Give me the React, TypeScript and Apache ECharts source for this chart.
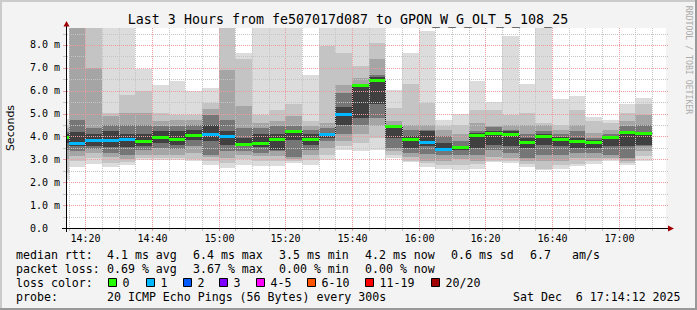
import React, { useEffect, useRef } from 'react';
import * as echarts from 'echarts';

const MONO = '"DejaVu Sans Mono", monospace';
const SANS = '"DejaVu Sans", sans-serif';

const titleText = 'Last 3 Hours from fe507017d087 to GPON_W_G_OLT_5_108_25';
const yAxisName = 'Seconds';
const watermark = 'RRDTOOL / TOBI OETIKER';

const rangeStart = '14:14:12';
const rangeEnd = '17:14:12';
const yMax = 8.743;
const barMinutes = 5;

const barTimes = [
  '14:10', '14:15', '14:20', '14:25', '14:30', '14:35', '14:40', '14:45', '14:50', '14:55',
  '15:00', '15:05', '15:10', '15:15', '15:20', '15:25', '15:30', '15:35', '15:40', '15:45',
  '15:50', '15:55', '16:00', '16:05', '16:10', '16:15', '16:20', '16:25', '16:30', '16:35',
  '16:40', '16:45', '16:50', '16:55', '17:00', '17:05',
];

// median RTT (ms) per 5-minute step
const median = [
  3.99, 3.72, 3.84, 3.84, 3.90, 3.81, 3.97, 3.87, 4.06, 4.13,
  4.04, 3.66, 3.71, 3.88, 4.23, 3.91, 4.09, 5.00, 6.23, 6.45,
  4.48, 3.90, 3.76, 3.47, 3.53, 4.06, 4.16, 4.10, 3.75, 4.00,
  3.91, 3.79, 3.74, 3.97, 4.20, 4.16,
];
// lost pings (of 20) per step
const lossCount = [
  0, 1, 1, 1, 1, 0, 0, 0, 0, 1,
  1, 0, 0, 0, 0, 0, 1, 1, 0, 0,
  0, 0, 1, 1, 0, 0, 0, 0, 0, 0,
  0, 0, 0, 0, 0, 0,
];

// smoke bands, outermost (0) to innermost (4): low and high ping bounds (ms)
const smokeLo0 = [2.12, 2.66, 2.80, 2.66, 2.77, 2.99, 2.99, 2.99, 2.92, 2.77, 2.63, 2.77, 2.70, 2.70, 2.85, 2.74, 2.99, 3.39, 3.36, 3.43, 3.06, 2.90, 2.66, 2.60, 2.55, 2.58, 2.89, 2.85, 2.66, 2.52, 2.60, 2.70, 2.80, 2.92, 2.77, 2.95];
const smokeHi0 = [4.75, 9.5, 9.5, 9.5, 9.5, 6.93, 6.23, 6.42, 5.98, 6.10, 9.5, 7.63, 9.5, 9.5, 9.5, 6.71, 9.5, 9.5, 9.5, 9.5, 6.05, 7.66, 8.63, 4.74, 4.99, 6.42, 5.51, 8.39, 6.30, 9.5, 5.66, 5.76, 4.86, 4.74, 5.43, 5.69];
const smokeLo1 = [2.40, 2.92, 3.06, 2.85, 2.90, 3.06, 3.06, 3.06, 3.00, 2.95, 2.85, 3.00, 2.92, 2.92, 2.92, 2.99, 3.20, 3.60, 3.72, 3.94, 3.20, 2.95, 2.85, 2.77, 2.75, 2.80, 2.92, 2.95, 2.80, 2.60, 2.75, 2.80, 2.92, 3.00, 2.85, 3.14];
const smokeHi1 = [4.50, 9.5, 9.5, 5.03, 5.83, 5.98, 5.03, 4.96, 4.96, 5.47, 9.5, 7.37, 4.96, 5.18, 5.44, 4.67, 7.95, 7.66, 7.07, 8.10, 5.25, 6.30, 5.47, 4.45, 4.52, 5.18, 5.18, 4.96, 5.03, 4.60, 4.52, 5.18, 4.67, 4.60, 5.03, 5.40];
const smokeLo2 = [3.00, 3.14, 3.30, 3.10, 3.00, 3.20, 3.20, 3.20, 3.30, 3.10, 3.06, 3.20, 3.14, 3.14, 3.00, 3.20, 3.50, 3.79, 4.09, 4.45, 3.35, 3.10, 2.92, 2.95, 3.00, 2.92, 3.10, 3.06, 2.95, 2.92, 2.95, 3.06, 3.06, 3.06, 2.95, 3.36];
const smokeHi2 = [4.35, 9.5, 7.00, 4.90, 5.03, 5.03, 4.67, 4.74, 4.74, 5.20, 6.90, 5.33, 4.60, 4.67, 4.90, 4.45, 4.60, 6.27, 6.56, 7.37, 4.67, 4.52, 4.52, 4.30, 4.09, 4.60, 4.45, 4.52, 4.52, 4.50, 4.30, 4.52, 4.16, 4.30, 4.67, 4.96];
const smokeLo3 = [3.40, 3.36, 3.45, 3.30, 3.20, 3.40, 3.50, 3.45, 3.60, 3.20, 3.35, 3.36, 3.30, 3.36, 3.12, 3.43, 3.79, 4.09, 4.52, 4.82, 3.50, 3.30, 3.22, 3.20, 3.20, 3.20, 3.43, 3.30, 3.06, 3.20, 3.20, 3.30, 3.30, 3.20, 3.06, 3.60];
const smokeHi3 = [4.20, 4.74, 4.38, 4.52, 4.52, 4.52, 4.45, 4.45, 4.52, 4.96, 4.74, 4.38, 4.38, 4.45, 4.45, 4.30, 4.38, 5.90, 6.30, 6.71, 4.52, 4.30, 4.30, 4.00, 3.79, 4.23, 4.40, 4.30, 4.09, 4.23, 4.09, 4.23, 3.94, 4.09, 4.45, 4.52];
const smokeLo4 = [3.70, 3.58, 3.60, 3.55, 3.55, 3.60, 3.72, 3.65, 3.85, 3.80, 3.65, 3.58, 3.55, 3.40, 3.85, 3.65, 3.94, 4.52, 4.80, 5.40, 3.94, 3.50, 3.58, 3.36, 3.40, 3.50, 3.65, 3.60, 3.50, 3.65, 3.60, 3.50, 3.50, 3.58, 3.60, 3.65];
const smokeHi4 = [4.10, 4.20, 4.09, 4.23, 4.09, 4.09, 4.23, 4.23, 4.30, 4.52, 4.23, 3.94, 4.09, 4.10, 4.30, 4.09, 4.16, 5.30, 6.20, 6.60, 4.50, 4.00, 4.23, 3.70, 3.60, 4.16, 4.26, 4.23, 3.94, 4.10, 3.98, 3.94, 3.85, 4.00, 4.25, 4.20];

const xTickLabels = ['14:20', '14:40', '15:00', '15:20', '15:40', '16:00', '16:20', '16:40', '17:00'];

const rttStats = ['4.1 ms avg', '6.4 ms max', '3.5 ms min', '4.2 ms now', '0.6 ms sd', '6.7', 'am/s'];
const lossStats = ['0.69 % avg', '3.67 % max', '0.00 % min', '0.00 % now'];
const lossLegendLabels = ['0', '1', '2', '3', '4-5', '6-10', '11-19', '20/20'];
const lossLegendColors = ['#26ff00', '#00b8ff', '#0059ff', '#7e00ff', '#ff00ff', '#ff5500', '#ff0000', '#a00000'];
const probeText = '20 ICMP Echo Pings (56 Bytes) every 300s';
const dateText = 'Sat Dec  6 17:14:12 2025';

// ---- layout / style (not data) ----
const bandColors = ['#dcdcdc', '#c4c4c4', '#a5a5a5', '#767676', '#404040'];
const GRID_MINOR = '#c4c4c4';
const GRID_MAJOR = '#ec9c9c';
const rttX = [107, 193, 279, 365, 451, 530, 572];
const lossX = [107, 193, 279, 365];
const swatchX = [108, 146, 183, 219, 256, 307, 365, 431];
const rowY = [254.5, 268.5, 282.5, 296.5];

function toMin(t: string): number {
  const p = t.split(':').map(Number);
  return p[0] * 60 + p[1] + (p[2] || 0) / 60;
}

function lossColor(n: number): string {
  if (n <= 0) return lossLegendColors[0];
  if (n === 1) return lossLegendColors[1];
  if (n === 2) return lossLegendColors[2];
  if (n === 3) return lossLegendColors[3];
  if (n <= 5) return lossLegendColors[4];
  if (n <= 10) return lossLegendColors[5];
  if (n <= 19) return lossLegendColors[6];
  return lossLegendColors[7];
}

function buildOption(): any {
  const xMin = toMin(rangeStart);
  const xMax = toMin(rangeEnd);
  const bands = [
    { lo: smokeLo0, hi: smokeHi0, color: bandColors[0] },
    { lo: smokeLo1, hi: smokeHi1, color: bandColors[1] },
    { lo: smokeLo2, hi: smokeHi2, color: bandColors[2] },
    { lo: smokeLo3, hi: smokeHi3, color: bandColors[3] },
    { lo: smokeLo4, hi: smokeHi4, color: bandColors[4] },
  ];
  const barData = barTimes.map((t, i) => [toMin(t), toMin(t) + barMinutes, i]);

  const gridTimes: number[][] = [];
  for (let t = 855; t <= 1030; t += 5) gridTimes.push([t, 0]);
  const gridValues: number[][] = [];
  for (let k = 1; k <= 17; k++) gridValues.push([xMin, k * 0.5]);
  const tickData = xTickLabels.map((l) => [toMin(l), 0]);

  const txt = (text: string, x: number, y: number, font: string, extra: any = {}) => ({
    type: 'text',
    x,
    y,
    z: 20,
    silent: true,
    style: { text, font, fill: '#000', align: 'left', verticalAlign: 'middle', ...extra },
  });
  const LEG = `11.6px ${MONO}`;

  const graphic: any[] = [
    { type: 'rect', z: 20, silent: true, shape: { x: 0, y: 0, width: 697, height: 2 }, style: { fill: '#cbcbcb' } },
    { type: 'rect', z: 20, silent: true, shape: { x: 0, y: 0, width: 2, height: 310 }, style: { fill: '#cbcbcb' } },
    { type: 'rect', z: 20, silent: true, shape: { x: 0, y: 308, width: 697, height: 2 }, style: { fill: '#999999' } },
    { type: 'rect', z: 20, silent: true, shape: { x: 695, y: 0, width: 2, height: 310 }, style: { fill: '#999999' } },
    txt(titleText, 348, 19.5, `13.3px ${MONO}`, { align: 'center' }),
    { ...txt(yAxisName, 10, 128, `11px ${SANS}`, { align: 'center' }), rotation: Math.PI / 2 },
    { ...txt(watermark, 688.5, 60, `8.2px ${MONO}`, { fill: '#ababab', align: 'center' }), rotation: -Math.PI / 2 },
    // axes
    { type: 'line', z: 20, silent: true, shape: { x1: 66.5, y1: 25, x2: 66.5, y2: 232 }, style: { stroke: '#000', lineWidth: 1 } },
    { type: 'line', z: 20, silent: true, shape: { x1: 62, y1: 228.5, x2: 670, y2: 228.5 }, style: { stroke: '#000', lineWidth: 1 } },
    { type: 'polygon', z: 21, silent: true, shape: { points: [[63.5, 26.5], [69.5, 26.5], [66.5, 21]] }, style: { fill: '#a00000' } },
    { type: 'polygon', z: 21, silent: true, shape: { points: [[668, 225.5], [668, 231.5], [674, 228.5]] }, style: { fill: '#a00000' } },
    // legend
    txt('median rtt:', 16, rowY[0], LEG),
    txt('packet loss:', 16, rowY[1], LEG),
    txt('loss color:', 16, rowY[2], LEG),
    txt('probe:', 16, rowY[3], LEG),
    txt(probeText, 107, rowY[3], LEG),
    txt(dateText.replace(/  /g, ' \u00a0'), 513, rowY[3], LEG),
  ];
  rttStats.forEach((s, i) => graphic.push(txt(s, rttX[i], rowY[0], LEG)));
  lossStats.forEach((s, i) => graphic.push(txt(s, lossX[i], rowY[1], LEG)));
  lossLegendLabels.forEach((l, i) => {
    graphic.push({
      type: 'rect', z: 20, silent: true,
      shape: { x: swatchX[i] + 0.5, y: 278.5, width: 8, height: 8 },
      style: { fill: lossLegendColors[i], stroke: '#000', lineWidth: 1 },
    });
    graphic.push(txt(l, swatchX[i] + 14.5, rowY[2], LEG));
  });

  return {
    animation: false,
    backgroundColor: '#f3f3f3',
    tooltip: { show: false },
    grid: { left: 66, top: 28, width: 600, height: 200, show: true, backgroundColor: '#ffffff', borderWidth: 0 },
    xAxis: { type: 'value', min: xMin, max: xMax, show: false },
    yAxis: {
      type: 'value',
      min: 0,
      max: yMax,
      interval: 0.5,
      axisLine: { show: false },
      axisTick: { show: false },
      splitLine: { show: false },
      axisLabel: {
        margin: 6,
        color: '#000',
        fontFamily: MONO,
        fontSize: 10,
        formatter: (v: number) => {
          if (Math.abs(v - Math.round(v)) > 1e-6) return '';
          if (Math.round(v) === 0) return '0.0\u00a0\u00a0';
          return v.toFixed(1) + ' m';
        },
      },
    },
    series: [
      {
        type: 'custom',
        name: 'smoke',
        z: 1,
        silent: true,
        clip: true,
        data: barData,
        renderItem: (params: any, api: any) => {
          const s = api.value(0);
          const e = api.value(1);
          const i = api.value(2);
          const children = bands.map((b) => {
            const p1 = api.coord([s, b.hi[i]]);
            const p2 = api.coord([e, b.lo[i]]);
            const x1 = Math.round(p1[0]);
            const x2 = Math.round(p2[0]);
            const y1 = Math.round(p1[1]);
            const y2 = Math.round(p2[1]);
            return { type: 'rect', shape: { x: x1, y: y1, width: x2 - x1, height: y2 - y1 }, style: { fill: b.color } };
          });
          return { type: 'group', children };
        },
      },
      {
        type: 'custom',
        name: 'medianLine',
        z: 2,
        silent: true,
        clip: true,
        data: barData,
        renderItem: (params: any, api: any) => {
          const s = api.value(0);
          const e = api.value(1);
          const i = api.value(2);
          const p1 = api.coord([s, median[i]]);
          const p2 = api.coord([e, median[i]]);
          const x1 = Math.round(p1[0]);
          const x2 = Math.round(p2[0]);
          const y = Math.round(p1[1]);
          const pts: number[][] = [[x1, y + 0.5], [x2 + 0.5, y + 0.5]];
          if (i + 1 < median.length) {
            const yn = Math.round(api.coord([e, median[i + 1]])[1]);
            pts.push([x2 + 0.5, yn + 0.5]);
          }
          return { type: 'polyline', shape: { points: pts }, style: { stroke: '#202020', lineWidth: 1, fill: null } };
        },
      },
      {
        type: 'custom',
        name: 'vgrid',
        z: 3,
        silent: true,
        clip: false,
        data: gridTimes,
        renderItem: (params: any, api: any) => {
          const t = api.value(0);
          const p0 = api.coord([t, 0]);
          const p1 = api.coord([t, yMax]);
          const x = Math.round(p0[0]) + 0.5;
          const major = Math.round(t) % 20 === 0;
          const c = major ? GRID_MAJOR : GRID_MINOR;
          return {
            type: 'group',
            children: [
              { type: 'line', shape: { x1: x, y1: p1[1], x2: x, y2: p0[1] }, style: { stroke: c, lineWidth: 1, lineDash: [1, 1] } },
              { type: 'line', shape: { x1: x, y1: p0[1] + 1, x2: x, y2: p0[1] + 3 }, style: { stroke: c, lineWidth: 1 } },
            ],
          };
        },
      },
      {
        type: 'custom',
        name: 'hgrid',
        z: 3,
        silent: true,
        clip: false,
        data: gridValues,
        renderItem: (params: any, api: any) => {
          const v = api.value(1);
          const pL = api.coord([xMin, v]);
          const pR = api.coord([xMax, v]);
          const y = Math.round(pL[1]) + 0.5;
          const major = Math.abs(v - Math.round(v)) < 1e-6;
          const c = major ? GRID_MAJOR : GRID_MINOR;
          return {
            type: 'group',
            children: [
              { type: 'line', shape: { x1: pL[0] + 1, y1: y, x2: pR[0] + 2, y2: y }, style: { stroke: c, lineWidth: 1, lineDash: [1, 1] } },
              { type: 'line', shape: { x1: pL[0] - 3, y1: y, x2: pL[0], y2: y }, style: { stroke: c, lineWidth: 1 } },
            ],
          };
        },
      },
      {
        type: 'custom',
        name: 'medianLoss',
        z: 4,
        silent: true,
        clip: true,
        data: barData,
        renderItem: (params: any, api: any) => {
          const s = api.value(0);
          const e = api.value(1);
          const i = api.value(2);
          const p1 = api.coord([s, median[i]]);
          const p2 = api.coord([e, median[i]]);
          const x1 = Math.round(p1[0]);
          const x2 = Math.round(p2[0]);
          const y = Math.round(p1[1]);
          return { type: 'rect', shape: { x: x1, y: y - 1, width: x2 - x1, height: 3 }, style: { fill: lossColor(lossCount[i]) } };
        },
      },
      {
        type: 'custom',
        name: 'xlabels',
        z: 5,
        silent: true,
        clip: false,
        data: tickData,
        renderItem: (params: any, api: any) => {
          const t = api.value(0);
          const p = api.coord([t, 0]);
          return {
            type: 'text',
            x: Math.round(p[0]) + 0.5,
            y: p[1] + 10,
            style: {
              text: xTickLabels[params.dataIndex],
              font: `10px ${MONO}`,
              fill: '#000',
              align: 'center',
              verticalAlign: 'middle',
            },
          };
        },
      },
    ],
    graphic,
  };
}

export default function App() {
  const ref = useRef<HTMLDivElement>(null);
  useEffect(() => {
    if (!ref.current) return;
    document.body.style.margin = '0';
    document.body.style.padding = '0';
    const chart = echarts.init(ref.current, null, { renderer: 'svg' });
    chart.setOption(buildOption());
    return () => chart.dispose();
  }, []);
  return <div ref={ref} style={{ width: 697, height: 310, margin: 0 }} />;
}
